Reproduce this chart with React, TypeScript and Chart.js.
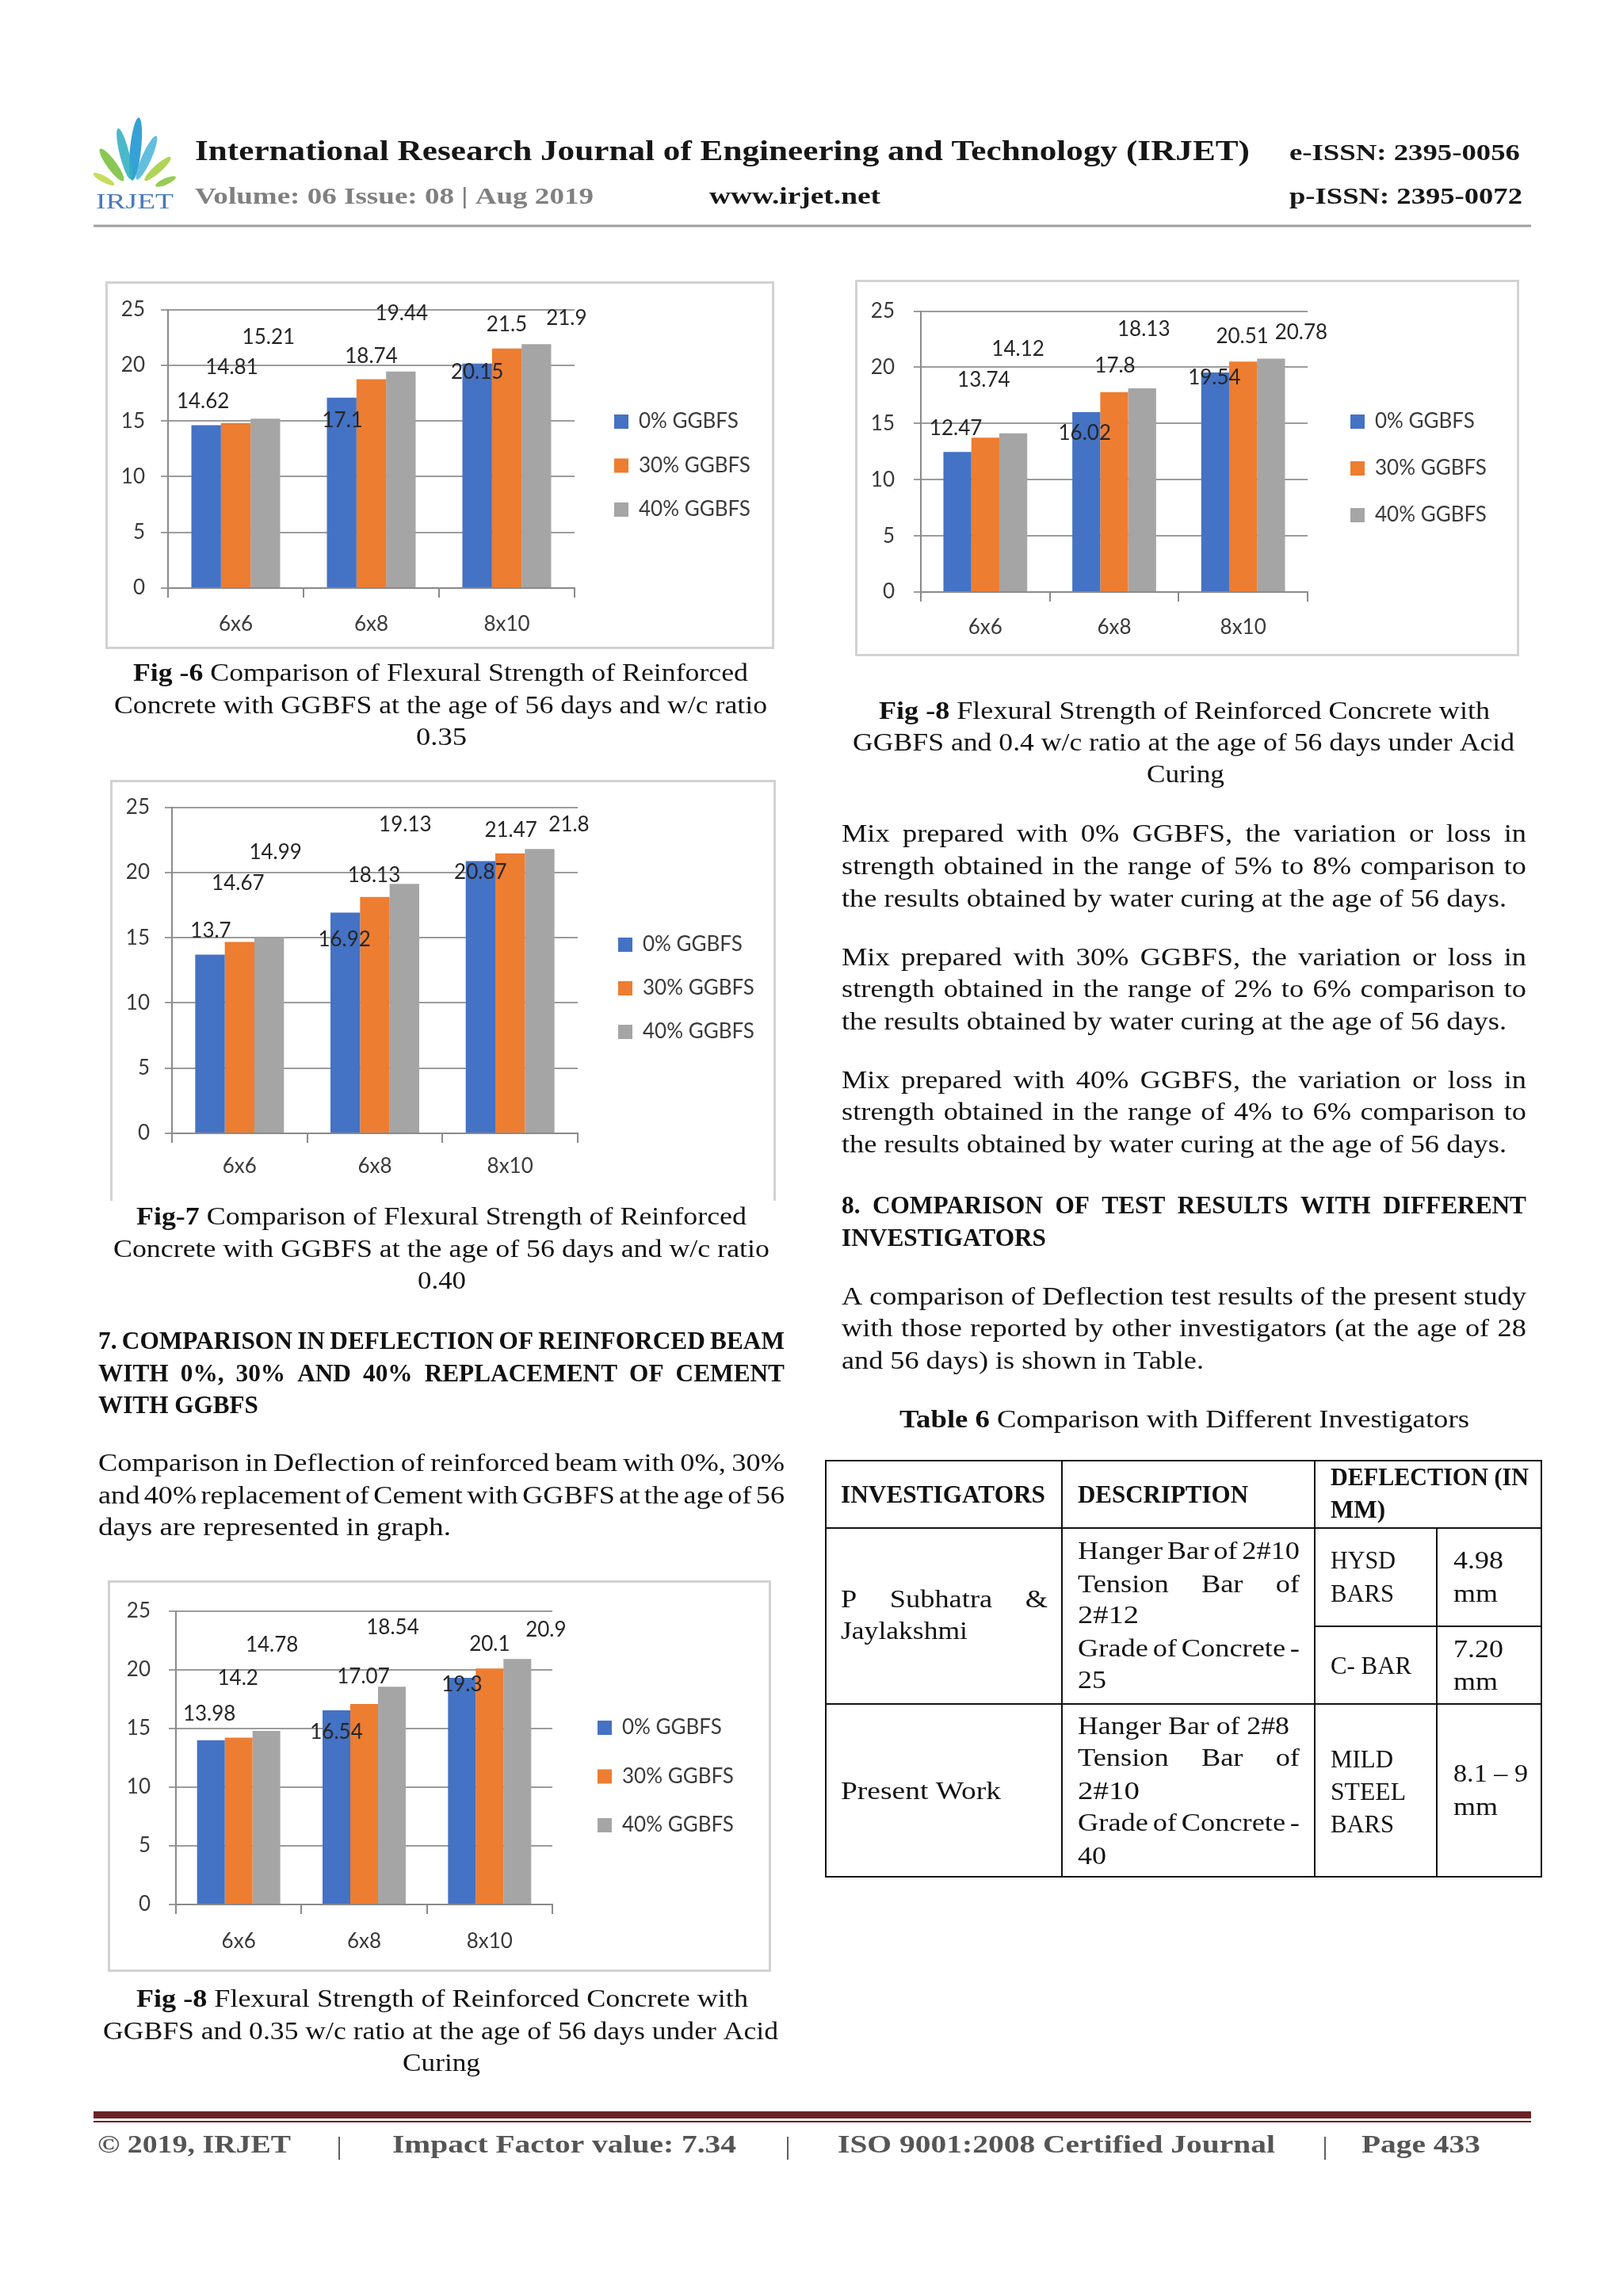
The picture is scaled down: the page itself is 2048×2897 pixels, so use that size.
import React, { useEffect, useRef } from 'react';
import { Chart, registerables } from 'chart.js';

Chart.register(...registerables);

// ---------------- DATA ----------------
const categories = ['6x6', '6x8', '8x10'];
const seriesNames = ['0% GGBFS', '30% GGBFS', '40% GGBFS'];
const seriesColors = ['#4472C4', '#ED7D31', '#A5A5A5'];
const yAxisMin = 0;
const yAxisMax = 25;
const yAxisStep = 5;

// Fig-6 : w/c 0.35, water curing
const fig6Zero = [14.62, 17.1, 20.15];
const fig6Thirty = [14.81, 18.74, 21.5];
const fig6Forty = [15.21, 19.44, 21.9];

// Fig-8 (right) : w/c 0.4, acid curing
const fig8rZero = [12.47, 16.02, 19.54];
const fig8rThirty = [13.74, 17.8, 20.51];
const fig8rForty = [14.12, 18.13, 20.78];

// Fig-7 : w/c 0.40, water curing
const fig7Zero = [13.7, 16.92, 20.87];
const fig7Thirty = [14.67, 18.13, 21.47];
const fig7Forty = [14.99, 19.13, 21.8];

// Fig-8 (bottom) : w/c 0.35, acid curing
const fig8bZero = [13.98, 16.54, 19.3];
const fig8bThirty = [14.2, 17.07, 20.1];
const fig8bForty = [14.78, 18.54, 20.9];

// data-label placement relative to bar top (px) [series][category] -> [dx, dy]
const fig6Shift = [[[-4, -30], [1, 29], [0, 11]], [[-5, -70], [0, -29], [0, -30]], [[4, -103], [1, -73], [38, -33]]];
const fig8rShift = [[[-2, -30], [-2, 27], [-1, 7]], [[-2, -73], [1, -33], [-1, -32]], [[6, -106], [2, -74], [38, -33]]];
const fig7Shift = [[[1, -30], [-1, 34], [0, 14]], [[-2, -74], [-1, -27], [1, -29]], [[8, -108], [1, -75], [37, -31]]];
const fig8bShift = [[[-2, -33], [0, 28], [0, 9]], [[-1, -75], [-1, -34], [0, -31]], [[7, -108], [1, -75], [36, -37]]];

// ---------------- LAYOUT ----------------
type Box = { x: number; y: number; w: number; h: number };
type Plot = { l: number; r: number; t: number; b: number };
type ChartSpec = {
  box: Box; bottomBorder: boolean; plot: Plot; yLabelRight: number; xLabelY: number;
  legendX: number; legendY: number; legendGap: number; catPct: number;
  series: number[][]; shifts: number[][][];
};

const chartSpecs: ChartSpec[] = [
  { box: { x: 133, y: 355, w: 844, h: 464 }, bottomBorder: true, plot: { l: 212, r: 725, t: 387, b: 742 }, yLabelRight: 183, xLabelY: 788, legendX: 775, legendY: 532, legendGap: 55.5, catPct: 0.655, series: [fig6Zero, fig6Thirty, fig6Forty], shifts: fig6Shift },
  { box: { x: 1079, y: 353, w: 838, h: 475 }, bottomBorder: true, plot: { l: 1162, r: 1650, t: 387, b: 747 }, yLabelRight: 1129, xLabelY: 792, legendX: 1704, legendY: 532, legendGap: 59, catPct: 0.65, series: [fig8rZero, fig8rThirty, fig8rForty], shifts: fig8rShift },
  { box: { x: 139, y: 984, w: 840, h: 531 }, bottomBorder: false, plot: { l: 217, r: 729, t: 1015, b: 1430 }, yLabelRight: 189, xLabelY: 1472, legendX: 780, legendY: 1192, legendGap: 55, catPct: 0.656, series: [fig7Zero, fig7Thirty, fig7Forty], shifts: fig7Shift },
  { box: { x: 136, y: 1994, w: 837, h: 494 }, bottomBorder: true, plot: { l: 222, r: 697, t: 2031, b: 2403 }, yLabelRight: 190, xLabelY: 2450, legendX: 754, legendY: 2180, legendGap: 61.5, catPct: 0.663, series: [fig8bZero, fig8bThirty, fig8bForty], shifts: fig8bShift },
];

const gridColor = '#9c9c9c';
const axisColor = '#8a8a8a';
const chartText = '#3a3a3a';
const chartFont = 'Lato';

function BarChart({ spec }: { spec: ChartSpec }) {
  const ref = useRef<HTMLCanvasElement>(null);
  useEffect(() => {
    const c = ref.current;
    if (!c) return;
    const { box, plot } = spec;
    const fs = 26;
    const L = plot.l - box.x;
    const R = plot.r - box.x;
    const T = plot.t - box.y;
    const B = plot.b - box.y;
    const S = spec.legendGap;
    const lp = S - fs;
    const legLeft = spec.legendX - box.x - lp;
    const dummyW = legLeft - R;
    const mc = document.createElement('canvas').getContext('2d') as CanvasRenderingContext2D;
    mc.font = `${fs}px ${chartFont}`;
    const tw = Math.max(...seriesNames.map((n) => mc.measureText(n).width));
    const legendW = lp + 18 + fs / 2 + tw + 10;
    const padR = Math.max(0, box.w - legLeft - legendW);
    const labelOff = spec.xLabelY - plot.b;
    const xAxisH = labelOff + 22;
    const legBottom = B + xAxisH;
    const padB = Math.max(0, box.h - legBottom);
    const cursorY = spec.legendY - box.y - fs / 2;
    const P0 = Math.max(0, Math.min(T, 2 * cursorY - lp - legBottom + 3 * S));
    const topH = T - P0;
    const yTickPad = plot.l - spec.yLabelRight - 9;
    const xTickPad = labelOff - 12 - fs * 0.6;

    const labelPlugin = {
      id: 'barValueLabels',
      afterDatasetsDraw(chart: any) {
        const ctx = chart.ctx;
        ctx.save();
        ctx.font = `${fs}px ${chartFont}`;
        ctx.fillStyle = '#262626';
        ctx.textAlign = 'center';
        ctx.textBaseline = 'middle';
        chart.data.datasets.forEach((ds: any, i: number) => {
          const meta = chart.getDatasetMeta(i);
          meta.data.forEach((el: any, j: number) => {
            const [dx, dy] = spec.shifts[i][j];
            ctx.fillText(String(ds.data[j]), el.x + dx, el.y + dy);
          });
        });
        ctx.restore();
      },
    };

    const hidden = {
      display: true,
      grid: { display: false, drawTicks: false },
      ticks: { display: false },
      border: { display: false },
    };

    const chart = new Chart(c, {
      type: 'bar',
      data: {
        labels: categories,
        datasets: seriesNames.map((n, i) => ({
          label: n,
          data: spec.series[i],
          backgroundColor: seriesColors[i],
          borderWidth: 0,
          barPercentage: 1,
          categoryPercentage: spec.catPct,
          xAxisID: 'x',
          yAxisID: 'y',
        })),
      },
      options: {
        animation: false,
        responsive: false,
        maintainAspectRatio: false,
        layout: { padding: { top: P0, left: 0, right: padR, bottom: padB } },
        scales: {
          x: {
            type: 'category',
            position: 'bottom',
            offset: true,
            grid: { display: true, drawOnChartArea: false, drawTicks: true, tickLength: 12, color: axisColor, lineWidth: 2, offset: true },
            border: { display: true, color: axisColor, width: 2 },
            ticks: { padding: xTickPad, font: { size: fs, family: chartFont }, color: chartText, maxRotation: 0, autoSkip: false },
            afterFit: (s: any) => { s.height = xAxisH; },
          },
          y: {
            type: 'linear',
            position: 'left',
            min: yAxisMin,
            max: yAxisMax,
            ticks: { stepSize: yAxisStep, padding: yTickPad, font: { size: fs, family: chartFont }, color: chartText },
            grid: { color: gridColor, lineWidth: 2, tickLength: 9, drawTicks: true },
            border: { display: true, color: axisColor, width: 2 },
            afterFit: (s: any) => { s.width = L; },
          },
          yR: { type: 'linear', position: 'right', ...hidden, afterFit: (s: any) => { s.width = dummyW; } },
          xT: { type: 'linear', position: 'top', ...hidden, afterFit: (s: any) => { s.height = topH; } },
        },
        plugins: {
          legend: {
            display: true,
            position: 'right',
            align: 'center',
            maxWidth: 1000,
            labels: { boxWidth: 18, boxHeight: 18, padding: lp, font: { size: fs, family: chartFont }, color: chartText },
          },
          tooltip: { enabled: false },
          title: { display: false },
        },
      } as any,
      plugins: [labelPlugin],
    });
    return () => chart.destroy();
  }, [spec]);
  const { box } = spec;
  return (
    <>
      <canvas ref={ref} width={box.w} height={box.h} style={{ position: 'absolute', left: box.x, top: box.y, width: box.w, height: box.h }} />
      <div style={{ position: 'absolute', left: box.x, top: box.y, width: box.w, height: box.h, boxSizing: 'border-box', border: '3px solid #d2d2d2', borderBottom: spec.bottomBorder ? '3px solid #d2d2d2' : 'none', pointerEvents: 'none' }} />
    </>
  );
}

// ---------------- TEXT ----------------
type Seg = [string, boolean];
type LineSpec = { t: string | Seg[]; x: number; y: number; w?: number; size?: number; bold?: boolean; color?: string; align?: 'l' | 'c' | 'r' | 'j' };

const SERIF = '"Liberation Serif", serif';
const BODY = 31;
let mctxCache: CanvasRenderingContext2D | null = null;
function measure(t: string, size: number, bold: boolean): number {
  if (!mctxCache) mctxCache = document.createElement('canvas').getContext('2d');
  const c = mctxCache as CanvasRenderingContext2D;
  c.font = `${bold ? 'bold ' : ''}${size}px ${SERIF}`;
  return c.measureText(t).width;
}

const FOOT = '#555555';
const DARK = '#161616';

const LINES: LineSpec[] = [
  // header
  { t: 'International Research Journal of Engineering and Technology (IRJET)', x: 246, y: 202, w: 1331, size: 36, bold: true, color: DARK },
  { t: 'e-ISSN: 2395-0056', x: 1627, y: 202, w: 291, size: 30, bold: true, color: DARK },
  { t: 'Volume: 06 Issue: 08 | Aug 2019', x: 246, y: 257, w: 503, size: 30, bold: true, color: '#808080' },
  { t: 'www.irjet.net', x: 895, y: 257, w: 216, size: 30, bold: true, color: DARK },
  { t: 'p-ISSN: 2395-0072', x: 1627, y: 257, w: 294, size: 30, bold: true, color: DARK },
  // Fig-6 caption
  { t: [['Fig -6', true], [' Comparison of Flexural Strength of Reinforced', false]], x: 168, y: 859, w: 776 },
  { t: 'Concrete with GGBFS at the age of 56 days and w/c ratio', x: 144, y: 900, w: 824 },
  { t: '0.35', x: 525, y: 940, w: 64 },
  // right Fig-8 caption
  { t: [['Fig -8', true], [' Flexural Strength of Reinforced Concrete with', false]], x: 1109, y: 907, w: 771 },
  { t: 'GGBFS and 0.4 w/c ratio at the age of 56 days under Acid', x: 1076, y: 947, w: 835 },
  { t: 'Curing', x: 1447, y: 987, w: 98 },
  // P1
  { t: 'Mix prepared with 0% GGBFS, the variation or loss in', x: 1062, y: 1062, w: 864, align: 'j' },
  { t: 'strength obtained in the range of 5% to 8% comparison to', x: 1062, y: 1103, w: 864, align: 'j' },
  { t: 'the results obtained by water curing at the age of 56 days.', x: 1062, y: 1144, w: 839 },
  // P2
  { t: 'Mix prepared with 30% GGBFS, the variation or loss in', x: 1062, y: 1218, w: 864, align: 'j' },
  { t: 'strength obtained in the range of 2% to 6% comparison to', x: 1062, y: 1258, w: 864, align: 'j' },
  { t: 'the results obtained by water curing at the age of 56 days.', x: 1062, y: 1299, w: 839 },
  // P3
  { t: 'Mix prepared with 40% GGBFS, the variation or loss in', x: 1062, y: 1373, w: 864, align: 'j' },
  { t: 'strength obtained in the range of 4% to 6% comparison to', x: 1062, y: 1413, w: 864, align: 'j' },
  { t: 'the results obtained by water curing at the age of 56 days.', x: 1062, y: 1454, w: 839 },
  // section 8
  { t: '8. COMPARISON OF TEST RESULTS WITH DIFFERENT', x: 1062, y: 1531, w: 864, align: 'j', bold: true },
  { t: 'INVESTIGATORS', x: 1062, y: 1572, w: 258, bold: true },
  // P4
  { t: 'A comparison of Deflection test results of the present study', x: 1062, y: 1646, w: 864, align: 'j' },
  { t: 'with those reported by other investigators (at the age of 28', x: 1062, y: 1686, w: 864, align: 'j' },
  { t: 'and 56 days) is shown in Table.', x: 1062, y: 1727, w: 457 },
  { t: [['Table 6', true], [' Comparison with Different Investigators', false]], x: 1135, y: 1801, w: 719 },
  // Fig-7 caption
  { t: [['Fig-7', true], [' Comparison of Flexural Strength of Reinforced', false]], x: 172, y: 1545, w: 770 },
  { t: 'Concrete with GGBFS at the age of 56 days and w/c ratio', x: 143, y: 1586, w: 828 },
  { t: '0.40', x: 527, y: 1626, w: 61 },
  // section 7
  { t: '7. COMPARISON IN DEFLECTION OF REINFORCED BEAM', x: 124, y: 1702, w: 866, align: 'j', bold: true },
  { t: 'WITH 0%, 30% AND 40% REPLACEMENT OF CEMENT', x: 124, y: 1743, w: 866, align: 'j', bold: true },
  { t: 'WITH GGBFS', x: 124, y: 1783, w: 202, bold: true },
  // left paragraph
  { t: 'Comparison in Deflection of reinforced beam with 0%, 30%', x: 124, y: 1856, w: 866, align: 'j' },
  { t: 'and 40% replacement of Cement with GGBFS at the age of 56', x: 124, y: 1897, w: 866, align: 'j' },
  { t: 'days are represented in graph.', x: 124, y: 1937, w: 445 },
  // bottom caption
  { t: [['Fig -8', true], [' Flexural Strength of Reinforced Concrete with', false]], x: 172, y: 2532, w: 772 },
  { t: 'GGBFS and 0.35 w/c ratio at the age of 56 days under Acid', x: 130, y: 2573, w: 852 },
  { t: 'Curing', x: 508, y: 2613, w: 98 },
  // table header
  { t: 'INVESTIGATORS', x: 1061, y: 1896, w: 258, bold: true },
  { t: 'DESCRIPTION', x: 1360, y: 1896, w: 215, bold: true },
  { t: 'DEFLECTION (IN', x: 1679, y: 1874, w: 250, bold: true },
  { t: 'MM)', x: 1679, y: 1915, w: 69, bold: true },
  // table row 1
  { t: 'P Subhatra &', x: 1061, y: 2028, w: 261, align: 'j' },
  { t: 'Jaylakshmi', x: 1061, y: 2068, w: 160 },
  { t: 'Hanger Bar of 2#10', x: 1360, y: 1967, w: 280, align: 'j' },
  { t: 'Tension Bar of', x: 1360, y: 2009, w: 280, align: 'j' },
  { t: '2#12', x: 1360, y: 2048, w: 77 },
  { t: 'Grade of Concrete -', x: 1360, y: 2090, w: 280, align: 'j' },
  { t: '25', x: 1360, y: 2130, w: 36 },
  { t: 'HYSD', x: 1679, y: 1979, w: 82 },
  { t: 'BARS', x: 1679, y: 2021, w: 80 },
  { t: '4.98', x: 1834, y: 1979, w: 63 },
  { t: 'mm', x: 1834, y: 2021, w: 56 },
  { t: 'C- BAR', x: 1679, y: 2112, w: 102 },
  { t: '7.20', x: 1834, y: 2091, w: 63 },
  { t: 'mm', x: 1834, y: 2132, w: 56 },
  // table row 2
  { t: 'Present Work', x: 1061, y: 2270, w: 202 },
  { t: 'Hanger Bar of 2#8', x: 1360, y: 2188, w: 267 },
  { t: 'Tension Bar of', x: 1360, y: 2228, w: 280, align: 'j' },
  { t: '2#10', x: 1360, y: 2270, w: 78 },
  { t: 'Grade of Concrete -', x: 1360, y: 2310, w: 280, align: 'j' },
  { t: '40', x: 1360, y: 2352, w: 36 },
  { t: 'MILD', x: 1679, y: 2230, w: 79 },
  { t: 'STEEL', x: 1679, y: 2271, w: 95 },
  { t: 'BARS', x: 1679, y: 2312, w: 80 },
  { t: '8.1 – 9', x: 1834, y: 2248, w: 94 },
  { t: 'mm', x: 1834, y: 2290, w: 56 },
  // footer
  { t: '© 2019, IRJET', x: 123, y: 2716, w: 244, size: 32, bold: true, color: FOOT },
  { t: '|', x: 428, y: 2718, size: 32, color: FOOT, align: 'c' },
  { t: 'Impact Factor value: 7.34', x: 495, y: 2716, w: 434, size: 32, bold: true, color: FOOT },
  { t: '|', x: 994, y: 2718, size: 32, color: FOOT, align: 'c' },
  { t: 'ISO 9001:2008 Certified Journal', x: 1057, y: 2716, w: 552, size: 32, bold: true, color: FOOT },
  { t: '|', x: 1672, y: 2718, size: 32, color: FOOT, align: 'c' },
  { t: 'Page 433', x: 1718, y: 2716, w: 150, size: 32, bold: true, color: FOOT },
];

function renderLine(ln: LineSpec, idx: number, hsN: number, hsB: number) {
  const size = ln.size ?? BODY;
  const color = ln.color ?? '#111111';
  const segs: Seg[] = typeof ln.t === 'string' ? [[ln.t, !!ln.bold]] : ln.t;
  const words: { t: string; b: boolean; w: number }[] = [];
  for (const [t, b] of segs) for (const s of t.split(' ')) if (s) words.push({ t: s, b, w: measure(s, size, b) });
  const n = words.length;
  const sp = measure(' ', size, false);
  const sum = words.reduce((a, w) => a + w.w, 0);
  const align = ln.align ?? 'l';
  const base = ln.bold ? hsB : hsN;
  let k: number;
  let gap: number;
  if (align === 'j' && n > 1 && ln.w) {
    k = base;
    gap = (ln.w - sum * k) / (n - 1);
    const minGap = sp * k * 0.6;
    if (gap < minGap) {
      gap = minGap;
      k = (ln.w - gap * (n - 1)) / sum;
    }
  } else {
    const nat = sum + sp * (n - 1);
    k = ln.w ? ln.w / nat : base;
    gap = sp * k;
  }
  const total = sum * k + gap * (n - 1);
  let x = align === 'c' ? ln.x - total / 2 : align === 'r' ? ln.x - total : ln.x;
  return words.map((w, i) => {
    const el = (
      <text key={`${idx}-${i}`} x={x} y={ln.y} textLength={w.w * k} lengthAdjust="spacingAndGlyphs" fontSize={size} fontWeight={w.b ? 700 : 400} fill={color}>
        {w.t}
      </text>
    );
    x += w.w * k + gap;
    return el;
  });
}

function Logo() {
  const leaves = [
    { cx: 171, cy: 188, rx: 7, ry: 40, r: 6, c: '#1f97cf' },
    { cx: 157, cy: 194, rx: 6, ry: 33, r: -14, c: '#35b1c4' },
    { cx: 185, cy: 199, rx: 6, ry: 30, r: 24, c: '#52b7da' },
    { cx: 141, cy: 208, rx: 6, ry: 25, r: -36, c: '#7cc243' },
    { cx: 199, cy: 213, rx: 5, ry: 22, r: 48, c: '#a6cf45' },
    { cx: 131, cy: 226, rx: 4, ry: 15, r: -62, c: '#c2d84b' },
    { cx: 209, cy: 229, rx: 4, ry: 14, r: 66, c: '#8cc63f' },
  ];
  return (
    <g>
      {leaves.map((l, i) => (
        <ellipse key={i} cx={l.cx} cy={l.cy} rx={l.rx} ry={l.ry} fill={l.c} transform={`rotate(${l.r} ${l.cx} ${l.cy})`} opacity={0.9} />
      ))}
      <text x={121} y={263} fontSize={28} fill="#4b79bd" textLength={98} lengthAdjust="spacingAndGlyphs">IRJET</text>
    </g>
  );
}

export default function App() {
  const hsN = 839 / measure('the results obtained by water curing at the age of 56 days.', BODY, false);
  const hsB = 258 / measure('INVESTIGATORS', BODY, true);
  const tb = { stroke: '#111', strokeWidth: 2 };
  return (
    <div style={{ position: 'absolute', left: 0, top: 0, width: 2048, height: 2897, background: '#fff', overflow: 'hidden' }}>
      {chartSpecs.map((s, i) => (
        <BarChart key={i} spec={s} />
      ))}
      <svg width={2048} height={2897} style={{ position: 'absolute', left: 0, top: 0, pointerEvents: 'none' }} fontFamily={SERIF}>
        <Logo />
        <line x1={118} y1={285} x2={1932} y2={285} stroke="#9e9e9e" strokeWidth={3} />
        {/* table */}
        <rect x={1042} y={1843} width={903} height={525} fill="none" {...tb} />
        <line x1={1340} y1={1843} x2={1340} y2={2368} {...tb} />
        <line x1={1659} y1={1843} x2={1659} y2={2368} {...tb} />
        <line x1={1813} y1={1928} x2={1813} y2={2368} {...tb} />
        <line x1={1042} y1={1928} x2={1945} y2={1928} {...tb} />
        <line x1={1659} y1={2052} x2={1945} y2={2052} {...tb} />
        <line x1={1042} y1={2150} x2={1945} y2={2150} {...tb} />
        {/* footer rules */}
        <rect x={118} y={2664} width={1814} height={9} fill="#6b2326" />
        <rect x={118} y={2676} width={1814} height={2} fill="#6b2326" />
        {LINES.map((ln, i) => renderLine(ln, i, hsN, hsB))}
      </svg>
    </div>
  );
}
